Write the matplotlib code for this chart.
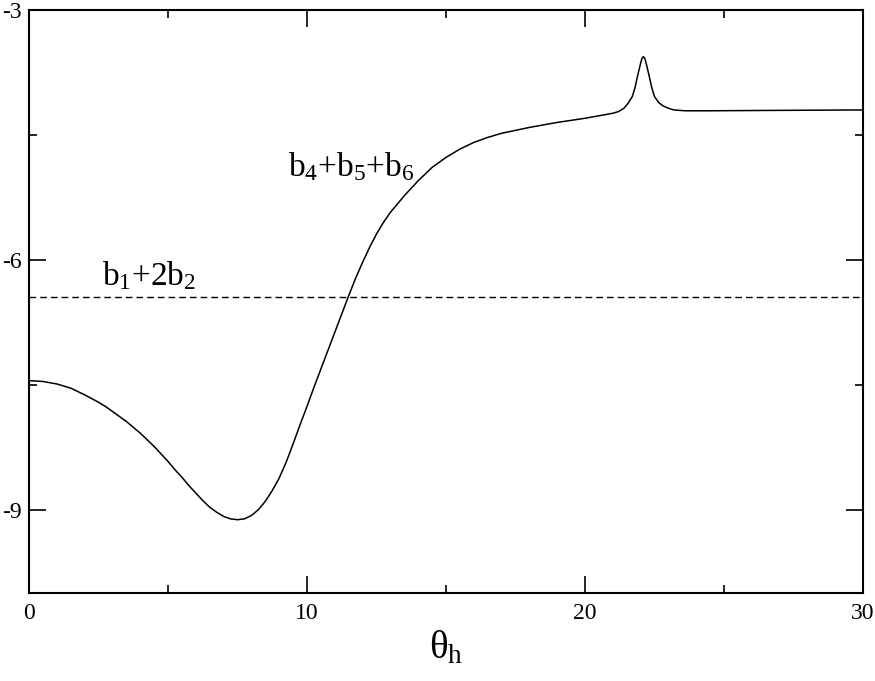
import matplotlib
matplotlib.use("Agg")
import matplotlib.pyplot as plt
from matplotlib.ticker import MultipleLocator, FuncFormatter

plt.rcParams['font.family'] = ['Liberation Serif', 'DejaVu Serif']
plt.rcParams['mathtext.fontset'] = 'custom'
plt.rcParams['mathtext.rm'] = 'Liberation Serif'
plt.rcParams['mathtext.it'] = 'Liberation Serif:italic'

# b4+b5+b6 curve
theta = [0.0, 0.5, 1.0, 1.5, 2.0, 2.5, 2.75, 3.0, 3.25, 3.5, 3.75, 4.0,
         4.25, 4.5, 4.75, 5.0, 5.25, 5.5, 5.75, 6.0, 6.25, 6.5, 6.75, 7.0,
         7.25, 7.5, 7.75, 8.0, 8.25, 8.5, 8.75, 9.0, 9.25, 9.5, 9.75, 10.0,
         10.25, 10.5, 10.75, 11.0, 11.25, 11.5, 11.75, 12.0, 12.25, 12.5,
         12.75, 13.0, 13.25, 13.5, 13.75, 14.0, 14.5, 15.0, 15.5, 16.0, 16.5,
         17.0, 18.0, 19.0, 20.0, 20.5, 21.0, 21.2, 21.4, 21.55, 21.7, 21.8,
         21.9, 22.0, 22.05, 22.1, 22.15, 22.2, 22.3, 22.4, 22.5, 22.65, 22.8,
         23.0, 23.2, 23.6, 24.5, 27.0, 30.0]
b456 = [-7.45, -7.46, -7.49, -7.54, -7.62, -7.71, -7.76, -7.82, -7.88, -7.94,
        -8.01, -8.08, -8.16, -8.24, -8.33, -8.42, -8.52, -8.61, -8.71, -8.80,
        -8.89, -8.97, -9.03, -9.08, -9.11, -9.12, -9.11, -9.07, -9.00, -8.90,
        -8.77, -8.62, -8.43, -8.21, -7.98, -7.76, -7.53, -7.31, -7.09, -6.87,
        -6.65, -6.43, -6.22, -6.03, -5.85, -5.69, -5.55, -5.43, -5.33, -5.23,
        -5.14, -5.05, -4.89, -4.77, -4.67, -4.59, -4.53, -4.48, -4.41, -4.35,
        -4.30, -4.27, -4.24, -4.22, -4.18, -4.12, -4.04, -3.93, -3.78, -3.64,
        -3.58, -3.56, -3.58, -3.64, -3.78, -3.93, -4.04, -4.11, -4.15, -4.18,
        -4.20, -4.21, -4.21, -4.205, -4.20]

# b1+2b2 constant level
b12_x = [0.0, 30.0]
b12_y = [-6.45, -6.45]

xticks = [0, 10, 20, 30]
yticks = [-9, -6, -3]

fig = plt.figure(figsize=(8.75, 6.81), dpi=100)
ax = fig.add_axes([29/875, 88/681, 834/875, 583/681])

ax.plot(theta, b456, color='black', lw=1.1)
ax.plot(b12_x, b12_y, color='black', lw=1.0, dashes=(4.8, 2.9))

ax.set_xlim(0, 30)
ax.set_ylim(-10, -3)
ax.set_xticks(xticks)
ax.set_yticks(yticks)
ax.xaxis.set_minor_locator(MultipleLocator(5))
ax.yaxis.set_minor_locator(MultipleLocator(1.5))
ax.yaxis.set_major_formatter(FuncFormatter(lambda v, p: f"{int(v)}"))

ax.tick_params(which='both', direction='in', top=True, right=True, width=1.2,
               labelsize=17, colors='black')
ax.tick_params(which='major', length=12)
ax.tick_params(which='minor', length=6)
ax.tick_params(axis='x', which='major', pad=7)
ax.tick_params(axis='y', which='major', pad=5)
for s in ax.spines.values():
    s.set_linewidth(1.5)

ax.set_xlabel(r'$\mathrm{\theta}_\mathrm{h}$', fontsize=28, labelpad=4)

ax.text(2.62, -6.30, r'$\mathrm{b}_1\mathrm{+2b}_2$', fontsize=24)
ax.text(9.32, -5.0, r'$\mathrm{b}_4\mathrm{+b}_5\mathrm{+b}_6$', fontsize=24)

fig.savefig('out.png', dpi=100)
